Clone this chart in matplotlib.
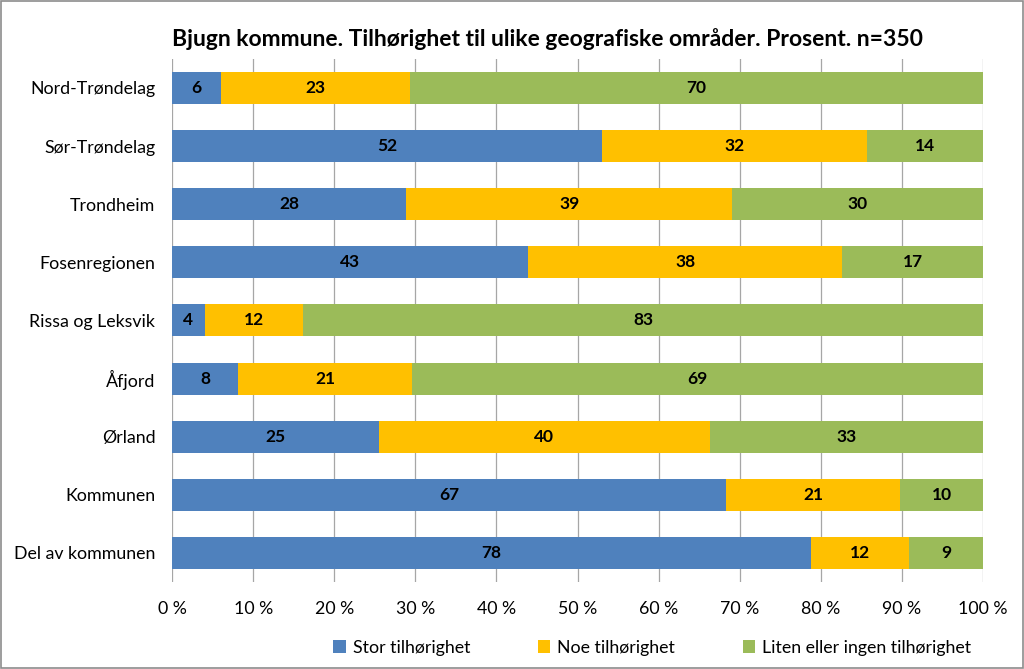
import numpy as np
import matplotlib.pyplot as plt
from matplotlib.patches import Rectangle

plt.rcParams['font.family'] = ['Lato', 'DejaVu Sans']

categories = ["Nord-Trøndelag", "Sør-Trøndelag", "Trondheim", "Fosenregionen",
              "Rissa og Leksvik", "Åfjord", "Ørland", "Kommunen", "Del av kommunen"]
stor = [6, 52, 28, 43, 4, 8, 25, 67, 78]
noe = [23, 32, 39, 38, 12, 21, 40, 21, 12]
liten = [70, 14, 30, 17, 83, 69, 33, 10, 9]
series_names = ["Stor tilhørighet", "Noe tilhørighet", "Liten eller ingen tilhørighet"]
colors = ["#4F81BD", "#FFC000", "#9BBB59"]
title = "Bjugn kommune. Tilhørighet til ulike geografiske områder. Prosent. n=350"

fig = plt.figure(figsize=(10.24, 6.69), dpi=100)
fig.patches.append(Rectangle((0.001, 0.001), 0.998, 0.998, transform=fig.transFigure,
                             fill=False, edgecolor="#8c8c8c", linewidth=1.2))
ax = fig.add_axes([0.168, 0.130, 0.792, 0.782])

data = np.array([stor, noe, liten], dtype=float)
totals = data.sum(axis=0)
shares = data / totals * 100
y = np.arange(len(categories))

left = np.zeros(len(categories))
for vals, raw, name, col in zip(shares, data, series_names, colors):
    ax.barh(y, vals, left=left, height=0.55, color=col, label=name, zorder=2)
    for yi, l, v, r in zip(y, left, vals, raw):
        ax.text(l + v / 2, yi, f"{int(r)}", ha="center", va="center",
                fontsize=12.5, fontweight="bold", color="black", zorder=3)
    left += vals

ax.set_ylim(len(categories) - 0.5, -0.5)
ax.set_xlim(0, 100)
ax.set_yticks(y)
ax.set_yticklabels(categories, fontsize=12.8)
ax.set_xticks(np.arange(0, 101, 10))
ax.set_xticklabels([f"{v} %" for v in range(0, 101, 10)], fontsize=12.8)
ax.tick_params(axis="y", length=0, pad=12)
ax.tick_params(axis="x", length=0, pad=14)
ax.xaxis.grid(True, color="#a6a6a6", linewidth=0.9, zorder=0)
ax.set_axisbelow(True)
for s in ax.spines.values():
    s.set_visible(False)

fig.suptitle(title, x=0.535, y=0.958, fontsize=16.5, fontweight="bold")
fig.legend(loc="lower center", bbox_to_anchor=(0.637, 0.0), ncol=3, frameon=False,
           fontsize=12.8, handlelength=0.7, handleheight=0.7, columnspacing=3.8,
           handletextpad=0.4, borderaxespad=0.35)

fig.savefig("out.png", dpi=100)
